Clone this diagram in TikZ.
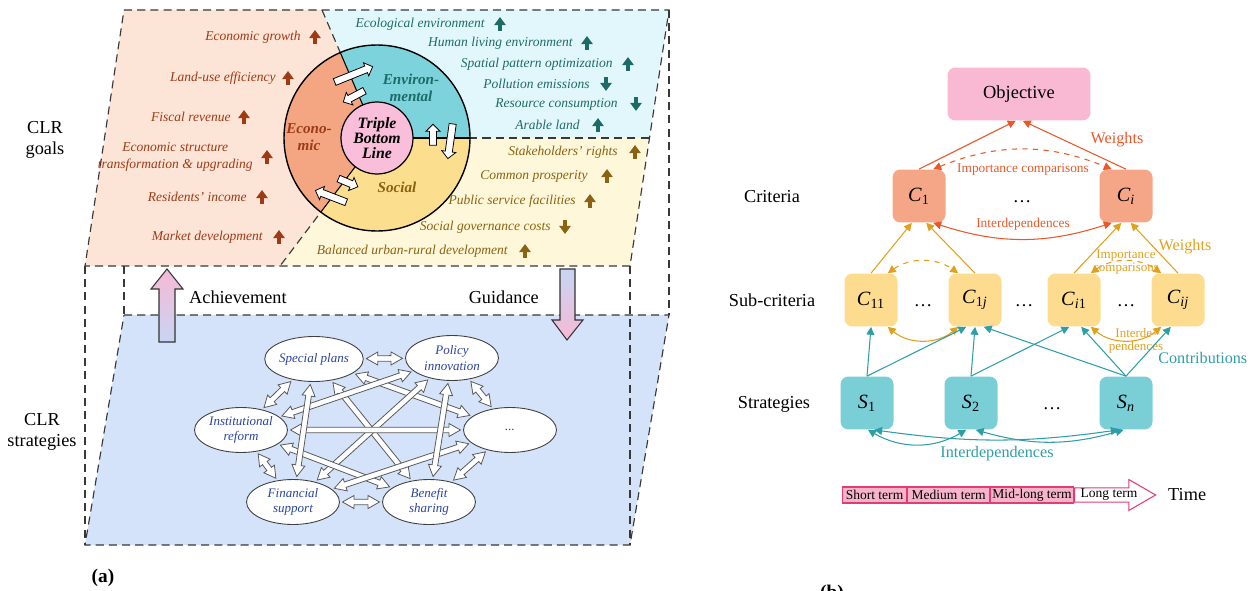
\documentclass[tikz,border=0pt]{standalone}
\usepackage{fontspec}
\setmainfont{Liberation Serif}
\usetikzlibrary{arrows.meta,positioning,calc,shapes.geometric,shapes.arrows}
\definecolor{ecobg}{HTML}{FCE4D6}
\definecolor{envbg}{HTML}{E2F7FC}
\definecolor{socbg}{HTML}{FFF7D9}
\definecolor{ecoring}{HTML}{F4A582}
\definecolor{envring}{HTML}{7DD3DB}
\definecolor{socring}{HTML}{FBDF8E}
\definecolor{corefill}{HTML}{F9BEDA}
\definecolor{ecotext}{HTML}{9E3A16}
\definecolor{envtext}{HTML}{1D6B67}
\definecolor{soctext}{HTML}{8A6212}
\definecolor{layer}{HTML}{D4E3F9}
\definecolor{nettext}{HTML}{2B44A0}
\definecolor{upper}{HTML}{F7B9D5}
\definecolor{lower}{HTML}{C8D5F3}
\definecolor{objfill}{HTML}{F9B9D3}
\definecolor{crit}{HTML}{E8582A}
\definecolor{critfill}{HTML}{F4A686}
\definecolor{sub}{HTML}{E0A01E}
\definecolor{subfill}{HTML}{FDDB8F}
\definecolor{strat}{HTML}{2E9EA6}
\definecolor{stratfill}{HTML}{7ACFD7}
\definecolor{termfill}{HTML}{F6B4CC}
\definecolor{termline}{HTML}{E33C72}

% hollow two-headed block arrow between two plan ellipses
\newcommand{\planlink}[2]{%
  \path (#1) -- (#2) coordinate[pos=0] (la) coordinate[pos=1] (lb);
  \path ($(la)!1.5pt!(lb)$) coordinate (ta) ($(lb)!1.5pt!(la)$) coordinate (tb);
  \path ($(ta)!6.5pt!(tb)$) coordinate (ha) ($(tb)!6.5pt!(ta)$) coordinate (hb);
  \draw[link] (ta) -- ($(ha)!3.7pt!90:(tb)$) -- ($(ha)!1.6pt!90:(tb)$)
    -- ($(hb)!1.6pt!-90:(ta)$) -- ($(hb)!3.7pt!-90:(ta)$) -- (tb)
    -- ($(hb)!3.7pt!90:(ta)$) -- ($(hb)!1.6pt!90:(ta)$)
    -- ($(ha)!1.6pt!-90:(tb)$) -- ($(ha)!3.7pt!-90:(tb)$) -- cycle;}

\begin{document}
\begin{tikzpicture}[x=0.02cm, y=-0.02cm,
  frame/.style={draw=black!78, line width=0.65pt, dash pattern=on 4.6pt off 2.9pt},
  goal/.style={font=\fontsize{7.7}{9.2}\selectfont\itshape, inner sep=0pt, align=center, anchor=east},
  trend/.style={line width=1.8pt, -{Triangle[length=4.6pt,width=6.4pt]}},
  ringlbl/.style={font=\fontsize{8.6}{9.4}\selectfont\bfseries\itshape, align=center, inner sep=0pt},
  swap/.style={single arrow, draw=black, fill=white, line width=0.45pt, inner xsep=0pt,
               inner ysep=1.8pt, single arrow head extend=2pt},
  plan/.style={ellipse, draw=black!75, fill=white, line width=0.5pt, minimum width=1.86cm,
               minimum height=0.9cm, inner sep=0pt, align=center, text=nettext,
               font=\fontsize{7.4}{8.8}\selectfont\itshape},
  link/.style={draw=black!65, fill=white, line width=0.45pt},
  side/.style={font=\fontsize{10.4}{12.4}\selectfont, align=center},
  lvl/.style={rounded corners=4.5pt, minimum width=1.06cm, minimum height=1.06cm, inner sep=0pt,
              font=\fontsize{11.5}{13}\selectfont},
  dots/.style={font=\fontsize{10.5}{12}\selectfont},
  small/.style={font=\fontsize{7.6}{7.6}\selectfont, align=center, inner sep=0pt},
  mid/.style={font=\fontsize{9.2}{10}\selectfont, inner sep=0pt},
  tip/.style={-{Triangle[length=4.5pt,width=4.5pt]}},
  tips/.style={{Triangle[length=4.5pt,width=4.5pt]}-{Triangle[length=4.5pt,width=4.5pt]}},
  term/.style={draw=termline, fill=termfill, line width=0.6pt, minimum height=0.32cm, inner sep=0pt,
               font=\fontsize{7.7}{9}\selectfont}]
  \useasboundingbox (0,0) rectangle (1248,591);

  % ---------------- (a) ----------------
  \coordinate (hub) at (377,138);
  \fill[ecobg] (124,10) -- (322,10) -- (hub) -- (280,266) -- (85,266) -- cycle;
  \fill[envbg] (322,10) -- (669,10) -- (649.5,138) -- (hub) -- cycle;
  \fill[socbg] (hub) -- (649.5,138) -- (630,266) -- (280,266) -- cycle;
  \fill[layer] (124,315) -- (669,315) -- (630,545) -- (85,545) -- cycle;

  \draw[frame] (124,10) -- (669,10) -- (630,266) -- (85,266) -- cycle;
  \draw[frame] (124,315) -- (669,315) -- (630,545) -- (85,545) -- cycle;
  \draw[frame] (85,266) -- (85,545);
  \draw[frame] (124,266) -- (124,315);
  \draw[frame] (630,266) -- (630,545);
  \draw[frame] (669,10) -- (669,315);
  \draw[frame] (322,10) -- (hub) -- (280,266);
  \draw[frame] (hub) -- (649.5,138);

  % ring of the three pillars
  \begin{scope}
    \clip (hub) -- (267,-118) -- (150,-118) -- (150,394) -- (183,394) -- cycle;
    \fill[ecoring] (hub) circle (93);
  \end{scope}
  \begin{scope}
    \clip (hub) -- (267,-118) -- (600,-118) -- (600,138) -- cycle;
    \fill[envring] (hub) circle (93);
  \end{scope}
  \begin{scope}
    \clip (hub) -- (600,138) -- (600,394) -- (183,394) -- cycle;
    \fill[socring] (hub) circle (93);
  \end{scope}
  \begin{scope}
    \clip (hub) circle (93);
    \draw[line width=0.6pt] (322,10) -- (hub) -- (280,266);
    \draw[line width=0.6pt] (hub) -- (649.5,138);
  \end{scope}
  \draw[line width=0.8pt] (hub) circle (93);
  \node[circle, draw, fill=corefill, line width=0.7pt, minimum size=1.44cm, inner sep=0pt,
        align=center, font=\fontsize{9}{8.6}\selectfont\bfseries\itshape] (tbl) at (hub)
    {Triple\\Bottom\\Line};
  \node[ringlbl, text=ecotext] (econ) at (309,137) {Econo-\\mic};
  \node[ringlbl, text=envtext] (envi) at (411,88) {Environ-\\mental};
  \node[ringlbl, text=soctext] (soci) at (397,187) {Social};

  \node[swap, minimum height=0.82cm, rotate=22] (w1) at (352,75) {};
  \node[swap, minimum height=0.48cm, rotate=208] (w2) at (355.5,95.5) {};
  \node[swap, minimum height=0.42cm, rotate=90] (w3) at (433,136.5) {};
  \node[swap, minimum height=0.70cm, rotate=262] (w4) at (450.5,139.5) {};
  \node[swap, minimum height=0.42cm, rotate=-23] (w5) at (346.5,182) {};
  \node[swap, minimum height=0.66cm, rotate=159] (w6) at (332.5,197) {};

  % economic goals
  \node[goal, text=ecotext] (eg1) at (301,37) {Economic growth};
  \node[goal, text=ecotext] (eg2) at (276,78) {Land-use efficiency};
  \node[goal, text=ecotext] (eg3) at (231,117) {Fiscal revenue};
  \node[goal, text=ecotext] (eg4) at (253,157) {Economic structure\\transformation \& upgrading};
  \node[goal, text=ecotext] (eg5) at (247,197) {Residents' income};
  \node[goal, text=ecotext] (eg6) at (263,237) {Market development};
  \draw[trend, ecotext] (315,44) -- (315,30);
  \draw[trend, ecotext] (288,85) -- (288,71);
  \draw[trend, ecotext] (244,124) -- (244,110);
  \draw[trend, ecotext] (267,164) -- (267,150);
  \draw[trend, ecotext] (262,204) -- (262,190);
  \draw[trend, ecotext] (279,244) -- (279,230);

  % environmental goals
  \node[goal, text=envtext] (ng1) at (485,24) {Ecological environment};
  \node[goal, text=envtext] (ng2) at (573,43) {Human living environment};
  \node[goal, text=envtext] (ng3) at (613,64) {Spatial pattern optimization};
  \node[goal, text=envtext] (ng4) at (590,84) {Pollution emissions};
  \node[goal, text=envtext] (ng5) at (618,104) {Resource consumption};
  \node[goal, text=envtext] (ng6) at (580,125) {Arable land};
  \draw[trend, envtext] (500,31) -- (500,17);
  \draw[trend, envtext] (587,50) -- (587,36);
  \draw[trend, envtext] (628,71) -- (628,57);
  \draw[trend, envtext] (606,77) -- (606,91);
  \draw[trend, envtext] (636,97) -- (636,111);
  \draw[trend, envtext] (598,132) -- (598,118);

  % social goals
  \node[goal, text=soctext] (sg1) at (618,152) {Stakeholders' rights};
  \node[goal, text=soctext] (sg2) at (588,176) {Common prosperity};
  \node[goal, text=soctext] (sg3) at (576,201) {Public service facilities};
  \node[goal, text=soctext] (sg4) at (551,227) {Social governance costs};
  \node[goal, text=soctext] (sg5) at (508,251) {Balanced urban-rural development};
  \draw[trend, soctext] (635,159) -- (635,145);
  \draw[trend, soctext] (607,183) -- (607,169);
  \draw[trend, soctext] (590,208) -- (590,194);
  \draw[trend, soctext] (565,220) -- (565,234);
  \draw[trend, soctext] (525,258) -- (525,244);

  \node[side] (goals) at (45,140) {CLR\\goals};
  \node[side] (strats) at (42,432) {CLR\\strategies};

  % achievement / guidance
  \shade[top color=upper, bottom color=lower, draw=black!80, line width=0.6pt]
    (167,269) -- (183,289) -- (175,289) -- (175,342) -- (159,342) -- (159,289) -- (151,289) -- cycle;
  \shade[top color=lower, bottom color=upper, draw=black!80, line width=0.6pt]
    (560,269) -- (575,269) -- (575,320) -- (583,320) -- (567,340) -- (552,320) -- (560,320) -- cycle;
  \node[side, anchor=west] (achv) at (183,297) {Achievement};
  \node[side, anchor=east] (guid) at (545,297) {Guidance};

  % strategy network
  \node[plan] (sp) at (314,359) {Special plans};
  \node[plan] (pi) at (452,358) {Policy\\innovation};
  \node[plan] (ir) at (241,430) {Institutional\\reform};
  \node[plan] (mo) at (510,430) {...};
  \node[plan] (fs) at (293,502) {Financial\\support};
  \node[plan] (bs) at (429,502) {Benefit\\sharing};
  \planlink{sp}{bs}
  \planlink{sp}{mo}
  \planlink{pi}{ir}
  \planlink{pi}{fs}
  \planlink{ir}{bs}
  \planlink{fs}{mo}
  \planlink{ir}{mo}
  \planlink{sp}{fs}
  \planlink{pi}{bs}
  \planlink{sp}{pi}
  \planlink{sp}{ir}
  \planlink{pi}{mo}
  \planlink{ir}{fs}
  \planlink{bs}{mo}
  \planlink{fs}{bs}

  \node[font=\fontsize{11}{13}\selectfont\bfseries] (taga) at (103,578) {(a)};

  % ---------------- (b) ----------------
  \node[lvl, fill=objfill, minimum width=2.86cm, font=\fontsize{10.5}{12}\selectfont] (obj) at (1019,94) {Objective};
  \node[lvl, fill=critfill] (c1) at (919,196) {\textit{C}\textsubscript{1}};
  \node[lvl, fill=critfill] (ci) at (1126,196) {\textit{C}\textsubscript{\textit{i}}};
  \node[lvl, fill=subfill] (c11) at (871,300) {\textit{C}\textsubscript{11}};
  \node[lvl, fill=subfill] (c1j) at (975,300) {\textit{C}\textsubscript{1\textit{j}}};
  \node[lvl, fill=subfill] (ci1) at (1074,300) {\textit{C}\textsubscript{\textit{i}1}};
  \node[lvl, fill=subfill] (cij) at (1178,300) {\textit{C}\textsubscript{\textit{ij}}};
  \node[lvl, fill=stratfill] (s1) at (867,403) {\textit{S}\textsubscript{1}};
  \node[lvl, fill=stratfill] (s2) at (971,403) {\textit{S}\textsubscript{2}};
  \node[lvl, fill=stratfill] (sn) at (1126,403) {\textit{S}\textsubscript{\textit{n}}};
  \node[dots] (d1) at (1022,202) {\dots};
  \node[dots] (d2) at (923,306) {\dots};
  \node[dots] (d3) at (1024,306) {\dots};
  \node[dots] (d4) at (1126,306) {\dots};
  \node[dots] (d5) at (1052,409) {\dots};
  \node[side] (lcrit) at (772,197) {Criteria};
  \node[side] (lsub) at (772,300) {Sub-criteria};
  \node[side] (lstr) at (774,404) {Strategies};

  % criteria level
  \draw[crit, line width=0.6pt, tip] (c1.north) -- (obj.-97);
  \draw[crit, line width=0.6pt, tip] (ci.north) -- (obj.-82);
  \draw[crit, line width=0.6pt, tips, dashed] (c1.62) to[bend left=22] (ci.118);
  \draw[crit, line width=0.6pt, tips] (c1.-62) to[bend right=18] (ci.-118);
  \node[mid, text=crit] (wc) at (1117,140) {Weights};
  \node[small, text=crit] (icc) at (1023,170) {Importance comparisons};
  \node[small, text=crit] (inc) at (1023,224) {Interdependences};

  % sub-criteria level
  \draw[sub, line width=0.6pt, tip] (c11.north) -- (c1.-105);
  \draw[sub, line width=0.6pt, tip] (c1j.north) -- (c1.-75);
  \draw[sub, line width=0.6pt, tip] (ci1.north) -- (ci.-100);
  \draw[sub, line width=0.6pt, tip] (cij.north) -- (ci.-80);
  \draw[sub, line width=0.6pt, tips, dashed] (c11.58) to[bend left=35] (c1j.122);
  \draw[sub, line width=0.6pt, tips, dashed] (ci1.58) to[bend left=35] (cij.122);
  \draw[sub, line width=0.6pt, tips] (c11.-58) to[bend right=40] (c1j.-122);
  \draw[sub, line width=0.6pt, tips] (ci1.-58) to[bend right=40] (cij.-122);
  \node[mid, text=sub] (ws) at (1185,247) {Weights};
  \node[small, text=sub, font=\fontsize{7.4}{7.2}\selectfont] (ics) at (1126,262) {Importance\\comparisons};
  \node[small, text=sub, font=\fontsize{7.4}{7.2}\selectfont] (ins) at (1136,341) {Interde-\\pendences};

  % strategies level
  \draw[strat, line width=0.6pt, tip] (s1.north) -- (c11.south);
  \draw[strat, line width=0.6pt, tip] (s1.north) -- (c1j.-108);
  \draw[strat, line width=0.6pt, tip] (s2.north) -- (c1j.south);
  \draw[strat, line width=0.6pt, tip] (s2.north) -- (ci1.-100);
  \draw[strat, line width=0.6pt, tip] (sn.north) -- (c1j.-72);
  \draw[strat, line width=0.6pt, tip] (sn.north) -- (ci1.-75);
  \draw[strat, line width=0.6pt, tip] (sn.north) -- (cij.-105);
  \draw[strat, line width=0.6pt, tips] (s1.-88) to[bend right=30] (s2.-100);
  \draw[strat, line width=0.6pt, tips] (s1.-75) to[bend right=8] (sn.-105);
  \draw[strat, line width=0.6pt, tips] (s2.-80) to[bend right=16] (sn.-95);
  \node[mid, text=strat, anchor=west] (contr) at (1158,358) {Contributions};
  \node[mid, text=strat] (ins2) at (997,454) {Interdependences};

  % time axis
  \node[term, minimum width=1.28cm, anchor=west] (t1) at (842,495) {Short term};
  \node[term, minimum width=1.64cm, right=0pt of t1] (t2) {Medium term};
  \node[term, minimum width=1.66cm, right=0pt of t2] (t3) {Mid-long term};
  \node[single arrow, draw=termline, fill=white, line width=0.6pt, minimum height=1.62cm,
        minimum width=0.62cm, single arrow head extend=0.15cm, single arrow tip angle=60,
        inner sep=0pt, font=\fontsize{7.7}{9}\selectfont, right=0pt of t3] (t4) {Long term};
  \node[side, right=3pt of t4] (time) {Time};

  \node[font=\fontsize{11}{13}\selectfont\bfseries] (tagb) at (832,594) {(b)};
\end{tikzpicture}
\end{document}
